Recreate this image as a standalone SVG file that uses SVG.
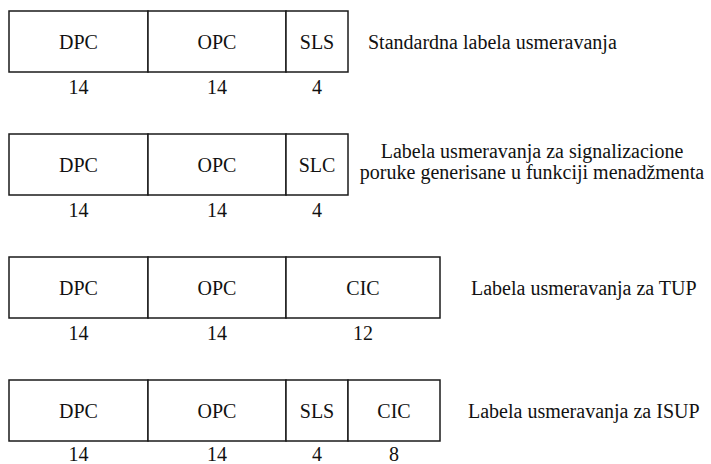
<svg xmlns="http://www.w3.org/2000/svg" width="711" height="464" viewBox="0 0 711 464">
  <style>
    .cell { fill: #fff; stroke: #1a1a1a; stroke-width: 1.5; }
    .lbl { font-size: 20px; fill: #111; text-anchor: middle; }
    .cap { font-size: 20px; fill: #111; }
  </style>
  <rect width="711" height="464" fill="#fff"/>

  <g font-family="Liberation Serif, Tinos, Times New Roman, Times, Nimbus Roman, FreeSerif, Noto Serif, DejaVu Serif, serif">

  <!-- Standard routing label -->
  <g id="row-standard">
    <rect class="cell" x="9" y="11" width="139" height="61"/>
    <rect class="cell" x="148" y="11" width="138" height="61"/>
    <rect class="cell" x="286" y="11" width="62" height="61"/>
    <text class="lbl" x="78.5" y="49">DPC</text>
    <text class="lbl" x="217" y="49">OPC</text>
    <text class="lbl" x="317" y="49">SLS</text>
    <text class="lbl" x="78.5" y="94">14</text>
    <text class="lbl" x="217" y="94">14</text>
    <text class="lbl" x="317" y="94">4</text>
    <text class="cap" x="368" y="49">Standardna labela usmeravanja</text>
  </g>

  <!-- Management messages routing label -->
  <g id="row-management">
    <rect class="cell" x="9" y="134" width="139" height="61"/>
    <rect class="cell" x="148" y="134" width="138" height="61"/>
    <rect class="cell" x="286" y="134" width="62" height="61"/>
    <text class="lbl" x="78.5" y="172">DPC</text>
    <text class="lbl" x="217" y="172">OPC</text>
    <text class="lbl" x="317" y="172">SLC</text>
    <text class="lbl" x="78.5" y="217">14</text>
    <text class="lbl" x="217" y="217">14</text>
    <text class="lbl" x="317" y="217">4</text>
    <text class="lbl" x="532" y="158">Labela usmeravanja za signalizacione</text>
    <text class="lbl" x="532" y="179">poruke generisane u funkciji menadžmenta</text>
  </g>

  <!-- TUP routing label -->
  <g id="row-tup">
    <rect class="cell" x="9" y="257" width="139" height="61"/>
    <rect class="cell" x="148" y="257" width="138" height="61"/>
    <rect class="cell" x="286" y="257" width="154" height="61"/>
    <text class="lbl" x="78.5" y="295">DPC</text>
    <text class="lbl" x="217" y="295">OPC</text>
    <text class="lbl" x="363" y="295">CIC</text>
    <text class="lbl" x="78.5" y="340">14</text>
    <text class="lbl" x="217" y="340">14</text>
    <text class="lbl" x="363" y="340">12</text>
    <text class="cap" x="471" y="295">Labela usmeravanja za TUP</text>
  </g>

  <!-- ISUP routing label -->
  <g id="row-isup">
    <rect class="cell" x="9" y="380" width="139" height="61"/>
    <rect class="cell" x="148" y="380" width="138" height="61"/>
    <rect class="cell" x="286" y="380" width="62" height="61"/>
    <rect class="cell" x="348" y="380" width="92" height="61"/>
    <text class="lbl" x="78.5" y="418">DPC</text>
    <text class="lbl" x="217" y="418">OPC</text>
    <text class="lbl" x="317" y="418">SLS</text>
    <text class="lbl" x="394" y="418">CIC</text>
    <text class="lbl" x="78.5" y="461">14</text>
    <text class="lbl" x="217" y="461">14</text>
    <text class="lbl" x="317" y="461">4</text>
    <text class="lbl" x="394" y="461">8</text>
    <text class="cap" x="468" y="418">Labela usmeravanja za ISUP</text>
  </g>

  </g>
</svg>
